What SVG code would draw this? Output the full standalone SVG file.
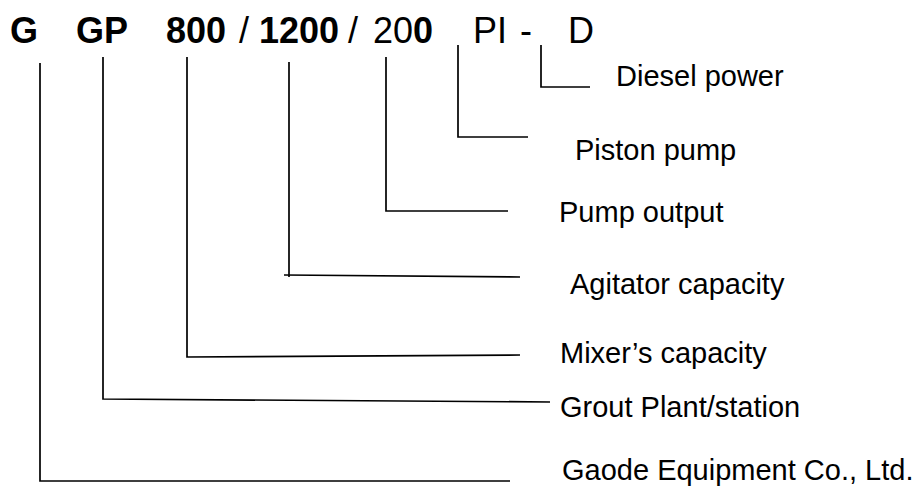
<svg xmlns="http://www.w3.org/2000/svg" width="919" height="486" viewBox="0 0 919 486">
<style>
.t{font-family:"Liberation Sans",Arial,sans-serif;font-size:36px;fill:#000}
.b{font-weight:bold}
.l{font-family:"Liberation Sans",Arial,sans-serif;font-size:29px;fill:#000}
.c{stroke:#000;stroke-width:1.7;fill:none}
</style>
<rect width="919" height="486" fill="#fff"/>
<g id="title">
<text class="t b" x="10" y="43">G</text>
<text class="t b" x="76" y="43">GP</text>
<text class="t b" x="166" y="43">800</text>
<text class="t" x="239" y="43">/</text>
<text class="t b" x="259" y="43">1200</text>
<text class="t" x="348" y="43">/</text>
<text class="t" x="373" y="43">20<tspan class="b">0</tspan></text>
<text class="t" x="473" y="43">PI</text>
<text class="t" x="520" y="43">-</text>
<text class="t" x="568" y="43">D</text>
</g>
<g id="connectors">
<polyline class="c" points="541,45 541,87 590,87"/>
<polyline class="c" points="458,45 458,137 528,137"/>
<polyline class="c" points="386,57 386,211 508,211"/>
<polyline class="c" points="289,62 289,277"/>
<line class="c" x1="284" y1="275" x2="520" y2="277"/>
<polyline class="c" points="187,57 187,357 520,355"/>
<polyline class="c" points="103,57 103,399 550,402"/>
<polyline class="c" points="40,63 40,481 510,481"/>
</g>
<g id="n-diesel"><text class="l" x="616" y="86">Diesel power</text></g>
<g id="n-piston"><text class="l" x="575" y="160">Piston pump</text></g>
<g id="n-output"><text class="l" x="559" y="222">Pump output</text></g>
<g id="n-agitator"><text class="l" x="570" y="294">Agitator capacity</text></g>
<g id="n-mixer"><text class="l" x="560" y="363">Mixer’s capacity</text></g>
<g id="n-grout"><text class="l" x="560" y="417">Grout Plant/station</text></g>
<g id="n-gaode"><text class="l" x="562" y="480">Gaode Equipment Co., Ltd.</text></g>
</svg>
